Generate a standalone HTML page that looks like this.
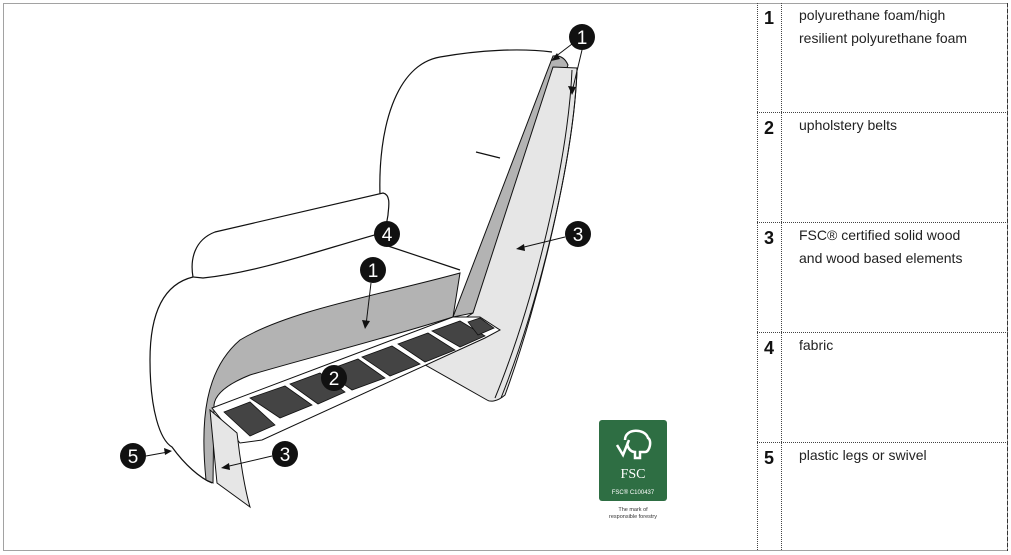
<!DOCTYPE html>
<html><head><meta charset="utf-8"><style>
html,body{margin:0;padding:0;background:#fff;width:1011px;height:555px;overflow:hidden;font-family:"Liberation Sans",sans-serif}
.t{position:absolute;font-size:14px;color:#222;line-height:23px}
.n{position:absolute;font-size:18px;font-weight:bold;color:#111;left:764px}
</style></head><body>
<svg width="1011" height="555" style="position:absolute;left:0;top:0">
<g fill="none" stroke="#444" stroke-width="1" stroke-dasharray="1,1">
<rect x="3.5" y="3.5" width="1004" height="547"/>
<line x1="757.5" y1="3" x2="757.5" y2="551"/>
<line x1="781.5" y1="3" x2="781.5" y2="551"/>
<line x1="757" y1="112.5" x2="1008" y2="112.5"/>
<line x1="757" y1="222.5" x2="1008" y2="222.5"/>
<line x1="757" y1="332.5" x2="1008" y2="332.5"/>
<line x1="757" y1="442.5" x2="1008" y2="442.5"/>
</g>
<line x1="1007.5" y1="3" x2="1007.5" y2="551" stroke="#333" stroke-dasharray="4,2"/>
<g stroke="#111" stroke-width="1.2" fill="#fff">
<path d="M380,195 C378,130 395,65 440,57 C480,50 520,48 552,52" fill="none"/>
<path d="M193,277 C190,260 194,240 215,232 L383,193 C392,195 388,210 388,215 L385,232 C320,250 260,272 203,278 Z"/>
<path d="M193,277 C160,285 150,320 150,360 C150,410 160,440 172,447 C185,465 200,478 212,483" fill="none"/>
<path d="M385,245 L460,270" fill="none"/>
<path d="M476,152 L500,158" fill="none"/>
</g>
<path d="M553,56 C560,55 565,58 568,65 L473,313 L453,317 Z" fill="#b3b3b3" stroke="#111"/>
<path d="M553,67 L577,68 C575,150 540,300 505,395 C497,402 490,402 487,400 L413,358 L440,333 L473,313 Z" fill="#e6e6e6" stroke="#111"/>
<path d="M572,70 C568,160 535,300 495,398" fill="none" stroke="#111"/>
<path d="M577,72 C573,160 540,300 501,398" fill="none" stroke="#111"/>
<path d="M460,273 L453,317 C380,340 300,360 250,375 C225,385 215,395 214,405 L213,483 L206,480 C200,420 205,370 240,340 C290,310 380,295 460,273 Z" fill="#b3b3b3" stroke="#111"/>
<path d="M212,408 L453,317 L480,317 L500,330 L485,338 L262,440 L240,443 Z" fill="#fff" stroke="#111"/>
<g fill="#444" stroke="#111" stroke-width="0.8">
<polygon points="224,412 250,402 275,425 250,436"/>
<polygon points="250,398 285,386 312,405 280,418"/>
<polygon points="290,384 320,373 345,392 318,404"/>
<polygon points="325,371 358,359 385,378 352,390"/>
<polygon points="362,357 392,346 420,364 390,376"/>
<polygon points="398,344 428,333 455,350 425,362"/>
<polygon points="432,331 460,321 485,336 460,347"/>
<polygon points="468,322 480,318 494,328 478,335"/>
</g>
<path d="M210,410 L237,433 C240,460 245,490 250,507 L217,483 Z" fill="#e6e6e6" stroke="#111"/>
<g fill="#111">
<circle cx="582" cy="37" r="13"/><circle cx="387" cy="234" r="13"/><circle cx="373" cy="270" r="13"/>
<circle cx="578" cy="234" r="13"/><circle cx="334" cy="378" r="13"/><circle cx="285" cy="454" r="13"/>
<circle cx="133" cy="456" r="13"/>
</g>
<g stroke="#111" stroke-width="1">
<line x1="572" y1="44" x2="555" y2="57"/><line x1="582" y1="50" x2="572" y2="92"/>
<line x1="565" y1="237" x2="520" y2="248"/><line x1="371" y1="283" x2="366" y2="325"/>
<line x1="272" y1="456" x2="225" y2="467"/><line x1="146" y1="456" x2="168" y2="452"/>
</g>
<g fill="#111">
<polygon points="551,61 557,53 560,59"/><polygon points="572,95 568,86 576,87"/>
<polygon points="516,249 524,244 525,251"/><polygon points="365,329 362,320 370,321"/>
<polygon points="221,468 229,463 230,470"/><polygon points="172,451 164,448 165,455"/>
</g>
<g fill="#fff" font-family="Liberation Sans" font-size="19" text-anchor="middle">
<text x="582" y="44">1</text><text x="387" y="241">4</text><text x="373" y="277">1</text>
<text x="578" y="241">3</text><text x="334" y="385">2</text><text x="285" y="461">3</text><text x="133" y="463">5</text>
</g>
<rect x="599" y="420" width="68" height="81" rx="3" fill="#2e6e43"/>
<path d="M617,445 L623,455 L629,440 M625,440 C625,428 645,428 648,438 C652,440 650,452 645,452 L640,452 L640,458 L635,458 L635,452 C630,452 626,446 628,442" fill="none" stroke="#fff" stroke-width="2.5"/>
<text x="633" y="478" fill="#fff" font-family="Liberation Serif" font-size="14" text-anchor="middle">FSC</text>
<text x="633" y="494" fill="#fff" font-size="6" text-anchor="middle">FSC® C100437</text>
<text x="633" y="511" fill="#333" font-size="5.5" text-anchor="middle">The mark of</text>
<text x="633" y="518" fill="#333" font-size="5.5" text-anchor="middle">responsible forestry</text>
</svg>
<div class="n" style="top:8px">1</div><div class="t" style="left:799px;top:4px">polyurethane foam/high<br>resilient polyurethane foam</div>
<div class="n" style="top:118px">2</div><div class="t" style="left:799px;top:114px">upholstery belts</div>
<div class="n" style="top:228px">3</div><div class="t" style="left:799px;top:224px">FSC® certified solid wood<br>and wood based elements</div>
<div class="n" style="top:338px">4</div><div class="t" style="left:799px;top:334px">fabric</div>
<div class="n" style="top:448px">5</div><div class="t" style="left:799px;top:444px">plastic legs or swivel</div>
</body></html>
